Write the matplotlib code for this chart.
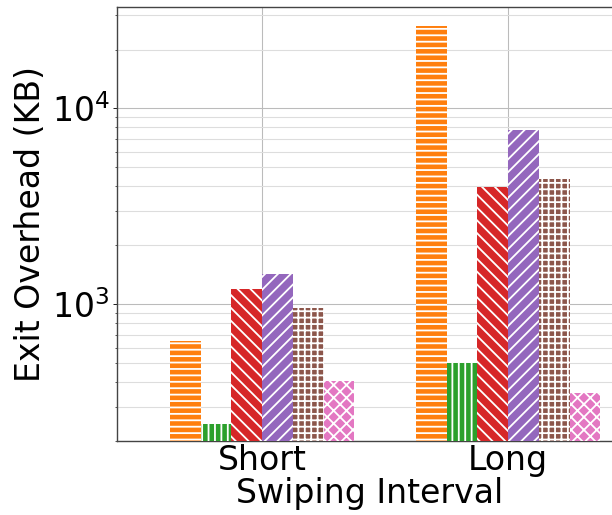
import numpy as np
import matplotlib.pyplot as plt

groups = ['Short', 'Long']
colors = ['#ff7f0e', '#2ca02c', '#d62728', '#9467bd', '#8c564b', '#e377c2']
hatches = ['--', '||', '\\\\', '//', '++', 'xx']
# bar slot index out of 8 slots per group (slot 0 and 7 stay empty)
slots = [1, 2, 3, 4, 5, 6]
vals = [
    [646, 26300],
    [245, 498],
    [1194, 3980],
    [1425, 7800],
    [954, 4375],
    [403, 350],
]

plt.rcParams['hatch.linewidth'] = 1.7
fig = plt.figure(figsize=(612/77, 515/77), dpi=77)
ax = fig.add_axes([117/612, 74/515, 506/612, 434/515])

x = np.arange(len(groups))
w = 0.125
for s, v, c, h in zip(slots, vals, colors, hatches):
    ax.bar(x + (s - 3.5) * w, v, w, color=c, hatch=h, edgecolor='white', linewidth=0, zorder=3)

ax.set_yscale('log')
ax.set_ylim(200, 33000)
ax.set_xlim(-0.59, 1.467)
ax.set_xticks(x)
ax.set_xticklabels(groups)
ax.set_xlabel('Swiping Interval', fontsize=31, labelpad=0)
ax.set_ylabel('Exit Overhead (KB)', fontsize=31, labelpad=4)
ax.tick_params(axis='both', labelsize=31)
ax.tick_params(axis='x', length=0, pad=3)
ax.grid(True, which='major', color='#bbbbbb', linewidth=1.0, zorder=0)
ax.grid(True, which='minor', axis='y', color='#dddddd', linewidth=1.0, zorder=0)
ax.set_axisbelow(True)
for sp in ax.spines.values():
    sp.set_color('#444444')
    sp.set_linewidth(1.3)

fig.savefig('out.png', dpi=77)
